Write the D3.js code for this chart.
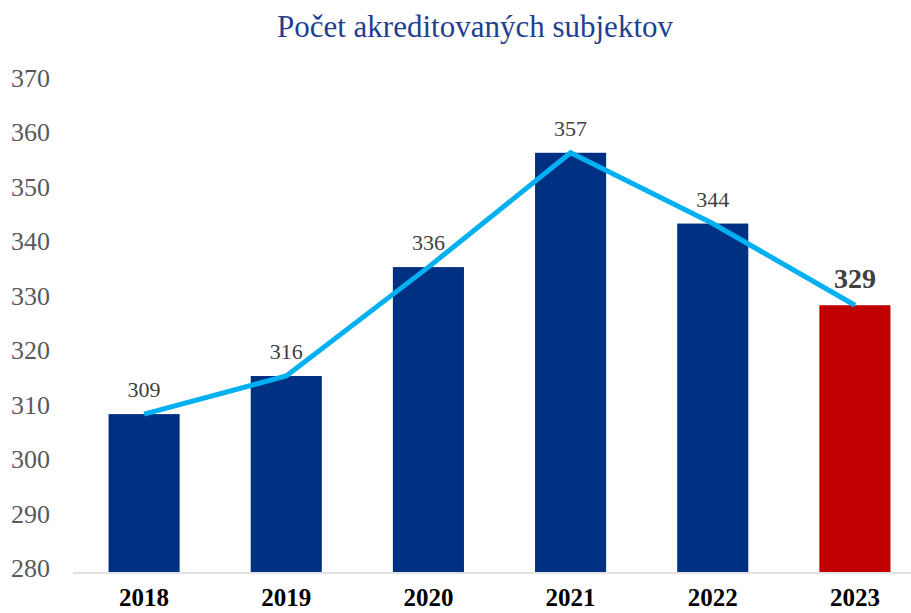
<!DOCTYPE html>
<html>
<head>
<meta charset="utf-8">
<script src="https://cdn.jsdelivr.net/npm/d3@7"></script>
<style>
  body { margin: 0; background: #fff; }
  svg { display: block; font-family: "Liberation Serif", "DejaVu Serif", serif; }
</style>
</head>
<body>
<div id="chart"></div>
<script>
var years = ["2018", "2019", "2020", "2021", "2022", "2023"];
var counts = [309, 316, 336, 357, 344, 329];
var yTicks = [280, 290, 300, 310, 320, 330, 340, 350, 360, 370];
var title = "Počet akreditovaných subjektov";

var width = 911,
    height = 613;

var svg = d3.select("#chart")
  .append("svg")
  .attr("width", width)
  .attr("height", height);

var x = d3.scaleBand()
  .domain(years)
  .range([73, 926])
  .paddingInner(0.5)
  .paddingOuter(0.25);

var y = d3.scaleLinear()
  .domain([280, 370])
  .range([572, 82]);

// title
svg.append("text")
  .attr("x", 475)
  .attr("y", 37)
  .attr("text-anchor", "middle")
  .attr("fill", "#1f3f8f")
  .style("font-size", "31px")
  .text(title);

// y tick labels
svg.selectAll(".ytick")
  .data(yTicks)
  .enter()
  .append("text")
  .attr("class", "ytick")
  .attr("x", 50)
  .attr("y", function(d) { return y(d) + 5; })
  .attr("text-anchor", "end")
  .attr("fill", "#595959")
  .style("font-size", "26px")
  .text(function(d) { return d; });

// bars
svg.selectAll(".bar")
  .data(counts)
  .enter()
  .append("rect")
  .attr("class", "bar")
  .attr("x", function(d, i) { return x(years[i]); })
  .attr("y", function(d) { return y(d); })
  .attr("width", x.bandwidth())
  .attr("height", function(d) { return y(280) - y(d); })
  .attr("fill", function(d, i) { return i == counts.length - 1 ? "#c00000" : "#003082"; });

// axis line
svg.append("line")
  .attr("x1", 73)
  .attr("x2", width)
  .attr("y1", 573)
  .attr("y2", 573)
  .attr("stroke", "#d9d9d9")
  .attr("stroke-width", 1.5);

// line over bars
var line = d3.line()
  .x(function(d, i) { return x(years[i]) + x.bandwidth() / 2; })
  .y(function(d) { return y(d); });

svg.append("path")
  .datum(counts)
  .attr("d", line)
  .attr("fill", "none")
  .attr("stroke", "#00b0f0")
  .attr("stroke-width", 5);

// value labels
svg.selectAll(".val")
  .data(counts)
  .enter()
  .append("text")
  .attr("class", "val")
  .attr("x", function(d, i) { return x(years[i]) + x.bandwidth() / 2; })
  .attr("y", function(d) { return y(d) - 17; })
  .attr("text-anchor", "middle")
  .attr("fill", "#404040")
  .style("font-size", function(d, i) { return i == counts.length - 1 ? "28px" : "22px"; })
  .style("font-weight", function(d, i) { return i == counts.length - 1 ? "bold" : "normal"; })
  .text(function(d) { return d; });

// year labels
svg.selectAll(".year")
  .data(years)
  .enter()
  .append("text")
  .attr("class", "year")
  .attr("x", function(d) { return x(d) + x.bandwidth() / 2; })
  .attr("y", 606)
  .attr("text-anchor", "middle")
  .attr("fill", "#000")
  .style("font-size", "25px")
  .style("font-weight", "bold")
  .text(function(d) { return d; });
</script>
</body>
</html>
